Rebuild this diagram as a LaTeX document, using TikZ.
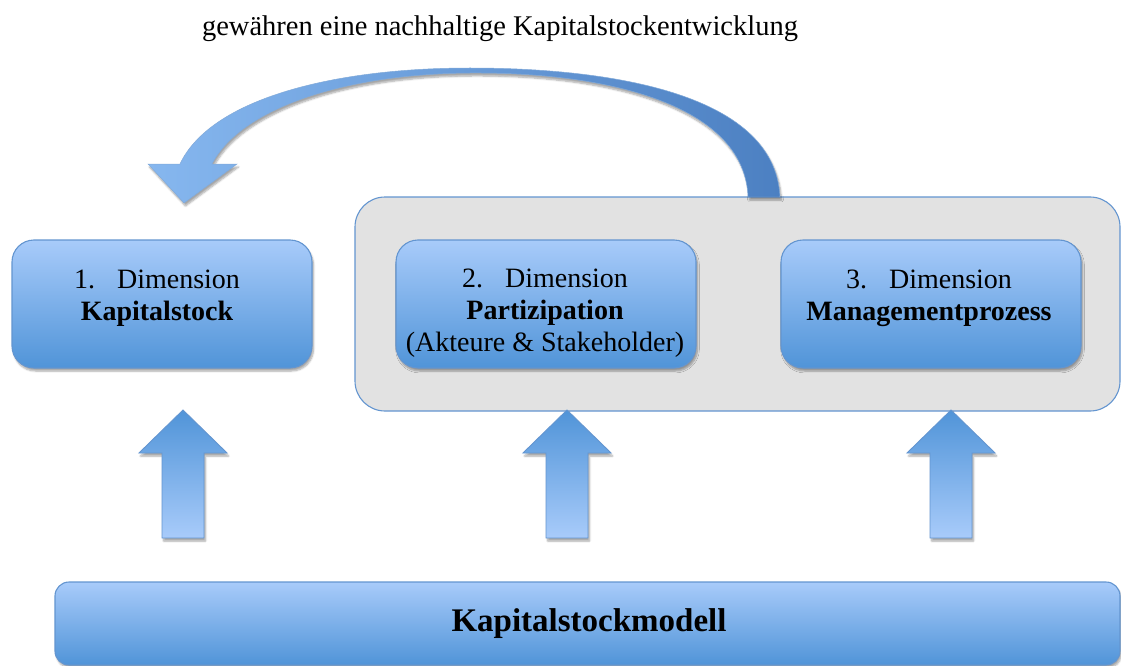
\documentclass[tikz,border=0pt]{standalone}
\usepackage{fontspec}
\setmainfont{Liberation Serif}
\usetikzlibrary{positioning,shadows.blur}

\definecolor{boxtop}{HTML}{A8CBFA}
\definecolor{boxbot}{HTML}{5094D8}
\definecolor{boxline}{HTML}{6395D0}
\definecolor{panelgray}{HTML}{E2E2E2}
\definecolor{arcleft}{HTML}{86B7EF}
\definecolor{arcright}{HTML}{4C80C2}

\tikzset{
  softshadow/.style={blur shadow={shadow xshift=1.5pt,shadow yshift=-3pt,shadow blur steps=6,shadow opacity=35}},
  dimbox/.style={draw=boxline, line width=1.1pt, rounded corners=22pt,
    top color=boxtop, bottom color=boxbot, minimum width=300pt, minimum height=128pt, softshadow},
  dimtext/.style={align=center, font=\fontsize{28}{32}\selectfont},
  panel/.style={draw=boxline, line width=1.1pt, rounded corners=30pt, fill=panelgray,
    minimum width=765pt, minimum height=214pt},
  uparrow/.style={draw=boxline, line width=0.9pt, top color=boxbot, bottom color=boxtop, softshadow},
  bendarrow/.style={draw=boxline!80, line width=0.5pt, left color=arcleft, right color=arcright, softshadow}
}

\begin{document}
\begin{tikzpicture}[x=1pt,y=-1pt]
  \useasboundingbox (0,0) rectangle (1121,666);

  % Ueberschrift
  \node[font=\fontsize{28.5}{34}\selectfont] (title) at (500,28.5) {gewähren eine nachhaltige Kapitalstockentwicklung};

  % Dimensionen
  \node[dimbox] (kap)   at (162,304) {};
  \node[panel]  (panel) at (737.5,304) {};
  \node[dimbox] (part)  at (546,304) {};
  \node[dimbox] (mgmt)  at (931,304) {};

  \node[dimtext] (kaptxt)  at (157,298.5) {1.\hspace{22pt}Dimension\\\textbf{Kapitalstock}};
  \node[dimtext] (parttxt) at (545,313)   {2.\hspace{22pt}Dimension\\\textbf{Partizipation}\\(Akteure \& Stakeholder)};
  \node[dimtext] (mgmttxt) at (929,298.5) {3.\hspace{22pt}Dimension\\\textbf{Managementprozess}};

  % Modell
  \node[dimbox, minimum width=1065pt, minimum height=83pt, rounded corners=14pt] (modell) at (587.5,623.5) {};
  \node[font=\fontsize{33}{38}\selectfont\bfseries] (modelltxt) at (589,624) {Kapitalstockmodell};

  % Pfeile nach oben
  \foreach \x in {183,567,951}
    \path[uparrow] (\x,410) -- (\x+44,453) -- (\x+21,453) -- (\x+21,538)
      -- (\x-21,538) -- (\x-21,453) -- (\x-44,453) -- cycle;

  % Rueckkopplung
  \path[bendarrow] (780,197) .. controls (775,90) and (600,68) .. (470,68)
    .. controls (330,68) and (210,100) .. (180,164) -- (148,164) -- (184,203)
    -- (237,164) -- (212,164) .. controls (240,110) and (340,74) .. (470,73)
    .. controls (620,72) and (745,110) .. (748,197) -- cycle;
\end{tikzpicture}
\end{document}
